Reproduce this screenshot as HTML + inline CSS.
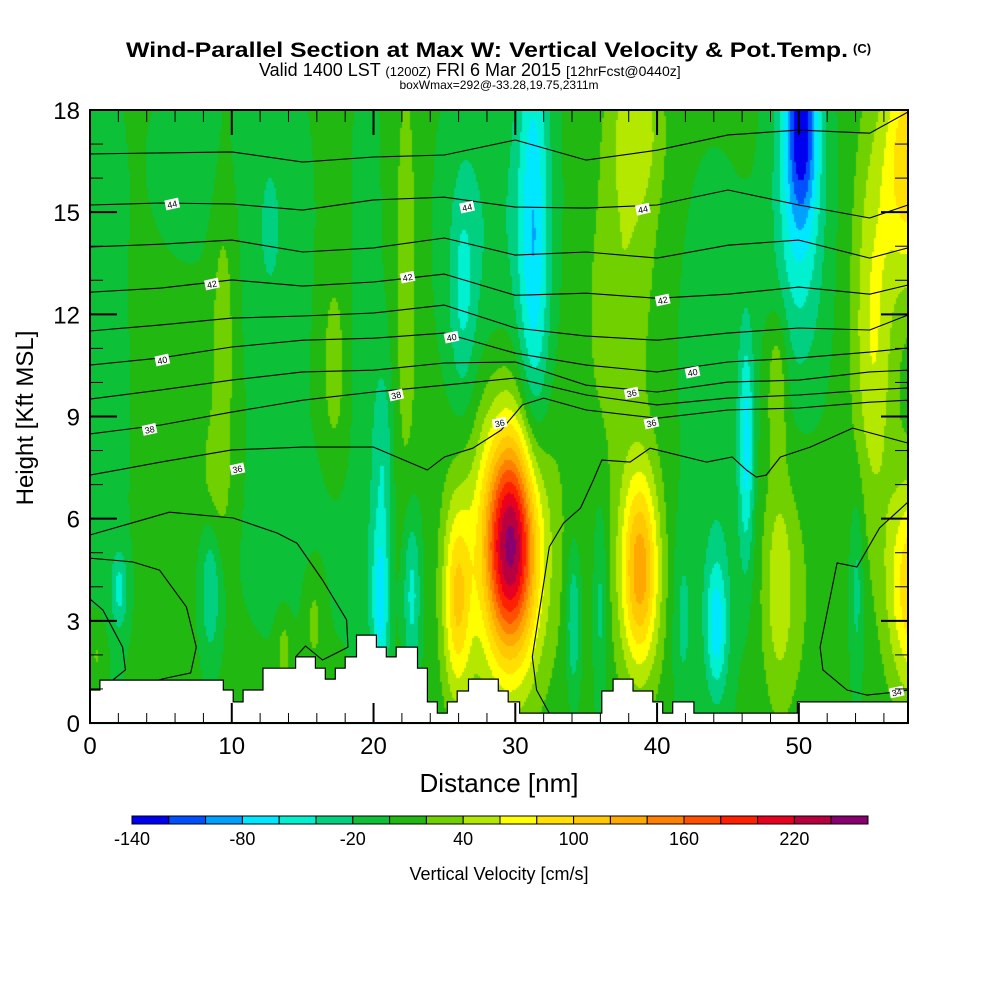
<!DOCTYPE html>
<html><head><meta charset="utf-8">
<style>
html,body{margin:0;padding:0;background:#fff;width:1000px;height:1000px;overflow:hidden}
#wrap{position:relative;width:1000px;height:1000px}
canvas{position:absolute;left:0;top:0}
svg{position:absolute;left:0;top:0}
text{font-family:"Liberation Sans",Arial,sans-serif;fill:#000}
</style></head>
<body>
<div id="wrap">
<canvas id="field" width="1000" height="1000"></canvas>
<svg id="svg" width="1000" height="1000" xmlns="http://www.w3.org/2000/svg">
<text x="487" y="57" font-size="21" font-weight="bold" text-anchor="middle" textLength="722" lengthAdjust="spacingAndGlyphs">Wind-Parallel Section at Max W: Vertical Velocity &amp; Pot.Temp.</text>
<text x="853" y="53" font-size="13" font-weight="bold">(C)</text>
<text x="259" y="76" font-size="18">Valid 1400 LST <tspan font-size="13">(1200Z)</tspan> FRI 6 Mar 2015 <tspan font-size="14">[12hrFcst@0440z]</tspan></text>
<text x="499" y="89" font-size="12" text-anchor="middle">boxWmax=292@-33.28,19.75,2311m</text>
<g id="isen"></g>
<g id="terrain"></g>
<g id="labels"></g>
<g id="axes"></g>
<text x="499" y="792" font-size="26" text-anchor="middle">Distance [nm]</text>
<text transform="translate(33,418) rotate(-90)" font-size="24" text-anchor="middle">Height [Kft MSL]</text>
<g id="cbar"></g>
<text x="499" y="880" font-size="18" text-anchor="middle">Vertical Velocity [cm/s]</text>
</svg>
</div>
<script>
// ---- data ----
const colorLevels = [-140,-120,-100,-80,-60,-40,-20,0,20,40,60,80,100,120,140,160,180,200,220,240];
const levelColors = ["#0000f0","#0050ff","#00a0ff","#00e8ff","#00f0d0","#00d080","#0cc038","#22b812","#70d000","#b4e800","#ffff00","#ffe000","#ffc800","#ffa800","#ff8000","#ff5000","#ff2000","#e80020","#b80040","#880070"];
const cbarLabels = [-140,-80,-20,40,100,160,220];
const baseW = 5;
// vertical-velocity cells: center x (nm), center z (kft), sx, sz, amplitude (cm/s)
const cellX = [1,7,13,19.5,15,8.5,2.1,9.4,17.2,22.3,12.7,26.3,31.3,28.5,38.5,37,50.2,50,57.8,55,46.3,48.5,48.6,49,44.2,44.2,41.8,54.1,58,38.8,38.5,25.9,29.7,29.4,20.5,22.7,20.7,34.1,36,15.8,13.7,0.5,44,55.5,38.5,8.8];
const cellZ = [9,16.5,14,10,5,4,3.9,11.5,10.5,13,14.6,12.5,14,14,17.5,12,17.8,15,16.5,12,8,10,4,4,2.8,3.5,3,4,4,4.5,4.5,3.6,5.2,5.5,3.5,3.8,8,3,3.5,3.2,2.2,2,11,11,15.5,7];
const cellSX = [1.2,2,2,0.8,3,0.5,0.4,0.6,0.6,0.6,0.4,0.7,0.8,2.5,1.3,1.5,0.8,1.3,1.3,1,0.4,0.5,0.6,1.5,0.5,1,0.5,0.35,1.2,0.9,1.6,0.7,1.3,2.3,0.45,0.45,0.5,0.35,0.35,0.6,0.4,0.5,2,1,1.5,0.8];
const cellSZ = [8,2,4.5,8,2,1.5,0.8,3,2,5,1,2.5,5,4,1.5,3,2,3.5,2.5,4,2.5,1.5,2,3,1.3,2.5,2,2,2.2,2,3,2,2.2,3.6,1.8,1.8,2,1.5,2.2,1.3,0.8,0.8,4,4,3,1.5];
const cellAmp = [-15,-15,-15,-15,-15,-45,-45,30,28,28,-30,-40,-75,-25,35,25,-105,-60,95,30,-70,40,30,25,-55,-25,-30,-35,95,110,20,85,188,60,-70,-55,-35,-50,-35,28,28,25,-15,28,20,25];
// terrain: step start (nm) and height (kft)
const terrX = [0,0.7,9.4,10.1,10.8,12.2,14.5,15.9,16.6,17.3,18.0,18.8,20.2,20.9,21.6,23.1,23.8,24.5,25.2,25.9,26.7,28.8,29.5,30.3,36.1,36.9,38.3,39.7,40.4,41.1,42.6,49.9];
const terrZ = [0.97,1.26,0.97,0.62,0.97,1.61,1.94,1.61,1.29,1.61,1.94,2.58,2.23,1.94,2.23,1.61,0.62,0.29,0.62,0.94,1.29,0.94,0.62,0.29,0.94,1.29,0.94,0.62,0.29,0.62,0.29,0.62];
// isentropes on common x nodes
const isenX = [0,5,10,15,20,25,30,35,40,45,50,55,57.7];
const thetaA = [16.71,16.74,16.77,16.47,16.62,16.68,17.12,16.53,16.82,17.27,17.41,17.32,17.94];
const thetaB = [15.21,15.27,15.24,15.06,15.36,15.44,15.15,15.12,15.21,15.65,15.21,14.83,15.21];
const thetaC = [13.98,14.06,14.18,13.83,13.95,14.24,13.74,13.83,13.65,14.03,14.18,13.65,13.95];
const thetaD = [12.65,12.77,13.01,12.83,12.95,13.18,12.56,12.62,12.47,12.59,12.80,12.59,12.86];
const thetaE = [11.51,11.69,11.89,11.95,12.04,12.27,11.60,11.36,11.24,11.45,11.60,11.54,11.98];
const thetaF = [10.51,10.72,11.04,11.24,11.30,11.45,10.86,10.51,10.31,10.60,10.72,10.89,11.01];
const thetaG = [9.51,9.78,10.07,10.31,10.36,10.57,10.60,9.92,9.72,10.01,10.07,10.31,10.36];
const thetaH = [8.49,8.75,9.13,9.48,9.72,9.92,10.13,9.63,9.34,9.54,9.63,9.78,9.84];
// irregular isentropes
const lineIx = [0,5,10,15,20,23.8,25,27,29,30.5,32,35,40,45,50,55,57.7];
const lineIz = [7.28,7.66,8.02,8.10,8.10,7.43,7.81,8.07,8.60,9.34,9.54,9.19,8.95,9.19,9.25,9.42,9.48];
const lineJx = [0,5.6,10.1,13.2,14.6,16.4,18.1,18.2,16.4,15.2,14.5];
const lineJz = [5.52,6.19,6.02,5.58,5.28,4.20,3.03,2.23,1.85,2.26,1.94];
const lineJRx = [32.4,31.5,31.2,32.4,33.4,34.6,35.5,36.1,38.1,39.5,43.5,45.3,46.3,47.0,47.7,48.7,50.8,53.8,57.7];
const lineJRz = [0.29,0.97,1.94,5.17,5.87,6.31,7.13,7.72,7.66,8.07,7.66,7.81,7.43,7.22,7.28,7.81,8.10,8.66,8.22];
const lineKx = [0,3.0,4.9,6.8,7.5,7.1,5.4,4.2];
const lineKz = [4.84,4.73,4.49,3.41,2.23,1.47,1.32,1.20];
const lineLx = [0,0.9,2.3,2.5,1.6];
const lineLz = [3.64,3.32,2.23,1.56,1.26];
const lineMx = [57.7,55.7,54.1,52.7,51.5,51.7,53.4,54.8,56.9,57.7];
const lineMz = [6.49,5.73,4.58,4.70,2.23,1.56,0.97,0.82,0.91,0.97];
const labelText = ["44","44","44","42","42","42","40","40","40","38","38","36","36","36","36","34"];
const labelX = [5.8,26.6,39.0,8.6,22.4,40.4,5.1,25.5,42.5,4.2,21.6,28.9,10.4,38.2,39.6,56.9];
const labelZ = [15.24,15.15,15.09,12.89,13.09,12.42,10.66,11.33,10.3,8.62,9.63,8.81,7.46,9.69,8.81,0.91];
const xTicks = [0,10,20,30,40,50];
const yTicks = [0,3,6,9,12,15,18];

// ---- axes ----
const X0=90,X1=908,XMAX=57.7,Y0=723,Y1=110,ZMAX=18;
const sx = v => X0 + v*(X1-X0)/XMAX;
const sy = v => Y0 - v*(Y0-Y1)/ZMAX;
const NS="http://www.w3.org/2000/svg";
function mk(tag, attrs, parent){const e=document.createElementNS(NS,tag);for(const k in attrs)e.setAttribute(k,attrs[k]);parent.appendChild(e);return e;}

// ---- field ----
function wAt(x,z){let v=baseW;for(let i=0;i<cellX.length;i++){const dx=(x-cellX[i])/cellSX[i],dz=(z-cellZ[i])/cellSZ[i];const q=0.5*(dx*dx+dz*dz);if(q<12)v+=cellAmp[i]*Math.exp(-q);}return v;}
const ctx=document.getElementById('field').getContext('2d');
const step=2;
for(let px=X0;px<X1;px+=step){for(let py=Y1;py<Y0;py+=step){
  const x=(px+1-X0)*XMAX/(X1-X0), z=(Y0-py-1)*ZMAX/(Y0-Y1);
  const v=wAt(x,z);let idx=Math.floor((v-colorLevels[0])/20);idx=Math.max(0,Math.min(levelColors.length-1,idx));
  ctx.fillStyle=levelColors[idx];ctx.fillRect(px,py,step,step);}}

// ---- isentropes ----
const isen=document.getElementById('isen');
function poly(xs,zs,name){const pts=xs.map((x,i)=>sx(x).toFixed(1)+','+sy(zs[i]).toFixed(1)).join(' ');
  const p=mk('polyline',{points:pts,fill:'none',stroke:'#000','stroke-width':1.1,'stroke-linejoin':'round'},isen);
  
  }
[thetaA,thetaB,thetaC,thetaD,thetaE,thetaF,thetaG,thetaH].forEach((z,i)=>poly(isenX,z,'isentrope-'+i));
poly(lineIx,lineIz,'isentrope-36');
poly(lineJx,lineJz,'isentrope-35-left');
poly(lineJRx,lineJRz,'isentrope-35-right');
poly(lineKx,lineKz,'isentrope-34-left');
poly(lineLx,lineLz,'isentrope-33-left');
poly(lineMx,lineMz,'isentrope-34-right');

// ---- terrain ----
const terr=document.getElementById('terrain');
let d='M'+sx(0)+','+sy(0);
for(let i=0;i<terrX.length;i++){const xe=(i+1<terrX.length)?terrX[i+1]:XMAX;d+=' L'+sx(terrX[i]).toFixed(1)+','+sy(terrZ[i]).toFixed(1)+' L'+sx(xe).toFixed(1)+','+sy(terrZ[i]).toFixed(1);}
d+=' L'+sx(XMAX)+','+sy(0)+' Z';
const tp=mk('path',{d:d,fill:'#fff',stroke:'#000','stroke-width':1.2},terr);



// ---- isentrope labels ----
const lab=document.getElementById('labels');
labelText.forEach((t,i)=>{const g=mk('g',{transform:'translate('+sx(labelX[i]).toFixed(1)+','+sy(labelZ[i]).toFixed(1)+') rotate(-12)'},lab);
  
  
  mk('rect',{x:-7,y:-5,width:14,height:10,fill:'#fff'},g);
  const tx=mk('text',{x:0,y:3.5,'font-size':9,'text-anchor':'middle'},g);tx.textContent=t;});

// ---- axes ----
const ax=document.getElementById('axes');
const fr=mk('rect',{x:X0,y:Y1,width:X1-X0,height:Y0-Y1,fill:'none',stroke:'#000','stroke-width':2},ax);


for(let v=0;v<=XMAX;v+=2){const maj=v%10===0;const L=maj?20:10;const x=sx(v);
  mk('line',{x1:x,y1:Y0,x2:x,y2:Y0-L,stroke:'#000','stroke-width':maj?2:1},ax);
  mk('line',{x1:x,y1:Y1,x2:x,y2:Y1+(maj?25:12),stroke:'#000','stroke-width':maj?2:1},ax);}
for(let v=0;v<=ZMAX;v+=1){const maj=v%3===0;const L=maj?27:13;const y=sy(v);
  mk('line',{x1:X0,y1:y,x2:X0+L,y2:y,stroke:'#000','stroke-width':maj?2:1},ax);
  mk('line',{x1:X1,y1:y,x2:X1-L,y2:y,stroke:'#000','stroke-width':maj?2:1},ax);}
xTicks.forEach(v=>{const t=mk('text',{x:sx(v),y:754,'font-size':24,'text-anchor':'middle'},ax);t.textContent=v;
  
  });
yTicks.forEach(v=>{const t=mk('text',{x:80,y:sy(v)+9,'font-size':24,'text-anchor':'end'},ax);t.textContent=v;
  
  });

// ---- colorbar ----
const cb=document.getElementById('cbar');
const CB0=132,CBW=36.8;
levelColors.forEach((c,i)=>{const r=mk('rect',{x:CB0+i*CBW,y:816,width:CBW,height:8,fill:c,stroke:'#000','stroke-width':1},cb);
  
  });
cbarLabels.forEach(v=>{const i=colorLevels.indexOf(v);const t=mk('text',{x:CB0+i*CBW,y:845,'font-size':18,'text-anchor':'middle'},cb);t.textContent=v;
  
  });
</script>
</body></html>
